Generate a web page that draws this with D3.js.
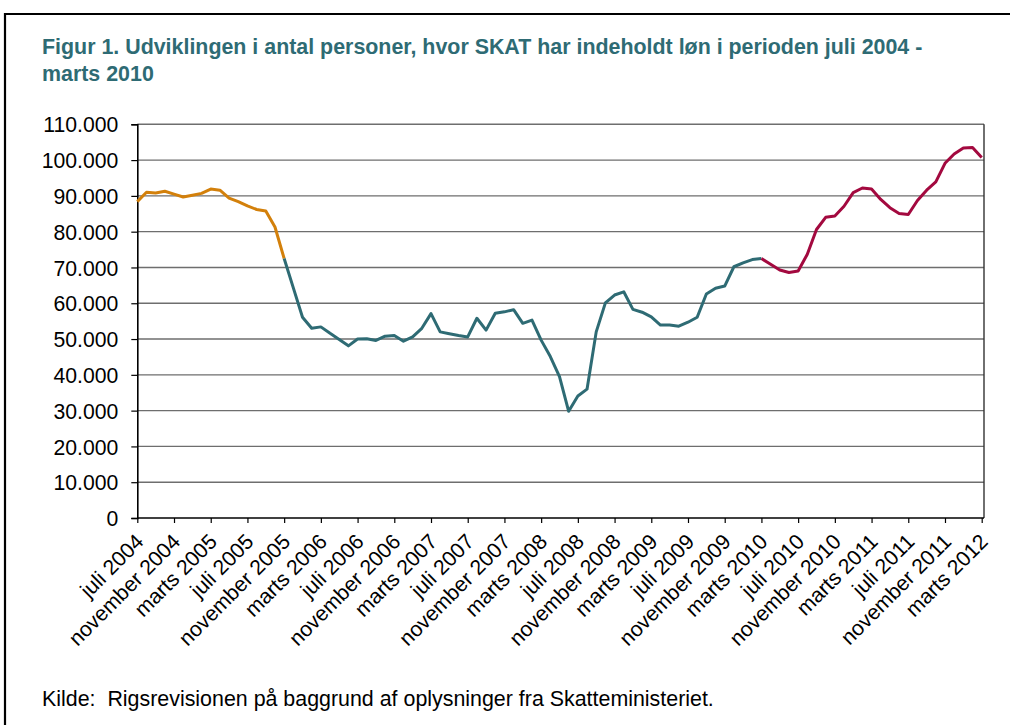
<!DOCTYPE html>
<html>
<head>
<meta charset="utf-8">
<title>Figur 1 | Løn indeholdt af SKAT</title>
<script src="https://d3js.org/d3.v7.min.js"></script>
<style>
    body {
        margin: 0;
        background: #fff;
    }
    svg text {
        font-family: "Liberation Sans", Arial, sans-serif;
    }
    .title {
        fill: #2e6b74;
        font-weight: bold;
        font-size: 21.4px;
    }
    .tick-label {
        font-size: 21.2px;
        fill: #000;
    }
    .grid line {
        stroke: #6e6e6e;
        stroke-width: 1.4px;
    }
    .source {
        font-size: 21.4px;
        fill: #000;
    }
</style>
</head>
<body>
<svg id="chart" width="1010" height="725"></svg>
<script>
// month index 0 = juli 2004, 92 = marts 2012
const tickLabels = [
    "juli 2004", "november 2004", "marts 2005", "juli 2005", "november 2005",
    "marts 2006", "juli 2006", "november 2006", "marts 2007", "juli 2007",
    "november 2007", "marts 2008", "juli 2008", "november 2008", "marts 2009",
    "juli 2009", "november 2009", "marts 2010", "juli 2010", "november 2010",
    "marts 2011", "juli 2011", "november 2011", "marts 2012"
];

// juli 2004 - november 2005
const orangeValues = [
    88400, 91000, 90800, 91300, 90500, 89700, 90200, 90700, 91900, 91600,
    89400, 88400, 87200, 86200, 85800, 81300, 72500
];
const orangeStart = 0;

// november 2005 - marts 2010
const tealValues = [
    72500, 64300, 56100, 53000, 53400, 51600, 49900, 48100, 50000, 50100,
    49600, 50800, 51000, 49400, 50600, 53000, 57100, 52000, 51500, 51000,
    50600, 55800, 52500, 57200, 57600, 58200, 54400, 55300, 49700, 45100,
    39500, 29800, 34100, 36000, 52000, 60100, 62300, 63200, 58300, 57500,
    56200, 53900, 53900, 53600, 54700, 56100, 62600, 64200, 64800, 70200,
    71300, 72200, 72500
];
const tealStart = 16;

// marts 2010 - marts 2012
const crimsonValues = [
    72500, 70900, 69300, 68600, 69000, 73700, 80600, 84000, 84400, 87100,
    90900, 92200, 91900, 89000, 86700, 85100, 84800, 88700, 91600, 93900,
    99100, 101700, 103400, 103500, 100700
];
const crimsonStart = 68;

const yTicks = [0, 10000, 20000, 30000, 40000, 50000, 60000, 70000, 80000, 90000, 100000, 110000];

const series = [
    {values: orangeValues, start: orangeStart, color: "#d3800b"},
    {values: tealValues, start: tealStart, color: "#2e6b74"},
    {values: crimsonValues, start: crimsonStart, color: "#a3093f"}
];

const svg = d3.select("#chart");

const plot = {left: 137.3, right: 984, top: 124.3, bottom: 518};

const x = d3.scaleLinear()
    .domain([0, 92])
    .range([plot.left, 981.7]);

const y = d3.scaleLinear()
    .domain([0, 110000])
    .range([plot.bottom, plot.top]);

const daFormat = d3.formatLocale({
    decimal: ",", thousands: ".", grouping: [3], currency: ["", " kr."]
}).format(",d");

// outer frame
svg.append("path")
    .attr("d", "M5,725 L5,14 L1010,14")
    .attr("fill", "none")
    .attr("stroke", "#000")
    .attr("stroke-width", 2.2);

// title
const title = svg.append("text")
    .attr("class", "title")
    .attr("x", 42)
    .attr("y", 54);
title.append("tspan").text("Figur 1. Udviklingen i antal personer, hvor SKAT har indeholdt løn i perioden juli 2004 -");
title.append("tspan").attr("x", 42).attr("dy", 27).text("marts 2010");

// horizontal gridlines
svg.append("g")
    .attr("class", "grid")
    .selectAll("line")
    .data(yTicks.filter(d => d > 0))
    .join("line")
    .attr("x1", plot.left)
    .attr("x2", plot.right)
    .attr("y1", d => y(d))
    .attr("y2", d => y(d));

// right border of plot
svg.append("line")
    .attr("x1", plot.right).attr("x2", plot.right)
    .attr("y1", plot.top).attr("y2", plot.bottom)
    .attr("stroke", "#333")
    .attr("stroke-width", 1.4);

// y axis
const yAxis = svg.append("g")
    .attr("transform", `translate(${plot.left},0)`)
    .call(d3.axisLeft(y).tickValues(yTicks).tickFormat(daFormat).tickSizeOuter(0).tickSize(6).tickPadding(13));
yAxis.select(".domain").attr("stroke", "#000").attr("stroke-width", 1.6);
yAxis.selectAll(".tick line").attr("stroke", "#000").attr("stroke-width", 1.2);
yAxis.selectAll(".tick text")
    .attr("class", "tick-label")
    .attr("font-size", null)
    .attr("font-family", null)
    .attr("dy", "0.36em");

// x axis
const tickIdx = tickLabels.map((d, i) => i * 4);
const xAxis = svg.append("g")
    .attr("transform", `translate(0,${plot.bottom})`)
    .call(d3.axisBottom(x).tickValues(tickIdx).tickFormat((d, i) => tickLabels[i]).tickSizeOuter(0).tickSize(5));
xAxis.select(".domain")
    .attr("d", `M${plot.left},0H${plot.right}`)
    .attr("stroke", "#000").attr("stroke-width", 1.6);
xAxis.selectAll(".tick line").attr("stroke", "#000").attr("stroke-width", 1.2);
xAxis.selectAll(".tick text")
    .attr("class", "tick-label")
    .attr("font-size", null)
    .attr("font-family", null)
    .attr("text-anchor", "end")
    .attr("dy", null)
    .attr("y", 0)
    .attr("transform", "translate(7,25) rotate(-45)");

// lines
const line = d3.line()
    .x(d => x(d.i))
    .y(d => y(d.v));

svg.append("g")
    .selectAll("path")
    .data(series)
    .join("path")
    .attr("fill", "none")
    .attr("stroke", d => d.color)
    .attr("stroke-width", 3)
    .attr("stroke-linejoin", "round")
    .attr("d", d => line(d.values.map((v, k) => ({i: d.start + k, v: v}))));

// source note
svg.append("text")
    .attr("class", "source")
    .attr("x", 42)
    .attr("y", 706)
    .attr("xml:space", "preserve")
    .text("Kilde:  Rigsrevisionen på baggrund af oplysninger fra Skatteministeriet.");
</script>
</body>
</html>
